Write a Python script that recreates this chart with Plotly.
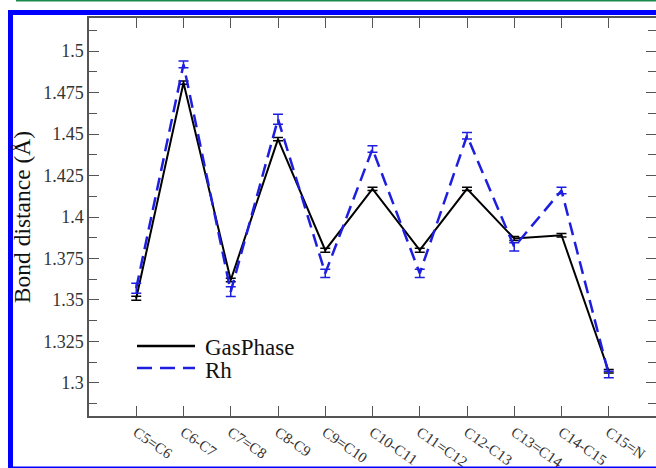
import plotly.graph_objects as go

bonds = ["C5=C6", "C6-C7", "C7=C8", "C8-C9", "C9=C10", "C10-C11",
         "C11=C12", "C12-C13", "C13=C14", "C14-C15", "C15=N"]

gas_values = [1.351, 1.481, 1.362, 1.447, 1.380, 1.417, 1.380, 1.417, 1.387, 1.389, 1.307]
gas_errors = [0.0012, 0.001, 0.001, 0.001, 0.0012, 0.001, 0.0012, 0.001, 0.0012, 0.001, 0.001]

rh_values = [1.357, 1.492, 1.355, 1.459, 1.366, 1.441, 1.366, 1.449, 1.382, 1.416, 1.305]
rh_errors = [0.003, 0.002, 0.003, 0.003, 0.0025, 0.002, 0.0025, 0.002, 0.0025, 0.002, 0.002]

y_tickvals = [1.3, 1.325, 1.35, 1.375, 1.4, 1.425, 1.45, 1.475, 1.5]
y_ticktext = ["1.3", "1.325", "1.35", "1.375", "1.4", "1.425", "1.45", "1.475", "1.5"]

series_names = ["GasPhase", "Rh"]

SERIF = "Liberation Serif, Times New Roman, serif"
BLUE_LINE = "#1e1ee0"
DASH = "13px,7px"

fig = go.Figure()
fig.add_trace(go.Scatter(
    x=bonds, y=gas_values, mode="lines", name=series_names[0],
    line=dict(color="black", width=2),
    error_y=dict(type="data", array=gas_errors, visible=True,
                 color="black", thickness=1.5, width=5),
    showlegend=False,
))
fig.add_trace(go.Scatter(
    x=bonds, y=rh_values, mode="lines", name=series_names[1],
    line=dict(color=BLUE_LINE, width=2.5, dash=DASH),
    error_y=dict(type="data", array=rh_errors, visible=True,
                 color=BLUE_LINE, thickness=1.5, width=5),
    showlegend=False,
))

axis_color = "#555555"
fig.update_xaxes(
    range=[-1, 11], showline=True, linecolor=axis_color, linewidth=1.5,
    mirror="ticks", ticks="inside", ticklen=10, tickwidth=1.2, tickcolor=axis_color,
    tickangle=35, tickfont=dict(family=SERIF, size=15, color="#333333"),
    showgrid=False, zeroline=False, automargin=False,
)
fig.update_yaxes(
    range=[1.28, 1.52], showline=True, linecolor=axis_color, linewidth=1.5,
    mirror="ticks", ticks="inside", ticklen=10, tickwidth=1.2, tickcolor=axis_color,
    tickmode="array", tickvals=y_tickvals, ticktext=y_ticktext,
    tickfont=dict(family=SERIF, size=18, color="#333333"),
    minor=dict(ticks="inside", ticklen=8, tickwidth=1.2, tickcolor=axis_color,
               dtick=0.0125, tick0=1.2875, showgrid=False),
    showgrid=False, zeroline=False, automargin=False,
    title=dict(text="Bond distance (Å)", font=dict(family=SERIF, size=23.5, color="#111111"),
               standoff=6),
)

# Manual legend (line samples + labels)
L, R, T, B = 89, 0, 18, 52
W, H = 656, 468
pw, ph = W - L - R, H - T - B
def px(x):
    return (x - L) / pw
def py(y):
    return (H - B - y) / ph

shapes = [
    dict(type="line", xref="paper", yref="paper", x0=px(137), x1=px(195), y0=py(346), y1=py(346),
         line=dict(color="black", width=2.5)),
    dict(type="line", xref="paper", yref="paper", x0=px(137), x1=px(195), y0=py(368), y1=py(368),
         line=dict(color=BLUE_LINE, width=2.5, dash="15px,8px")),
    # outer blue frame
    dict(type="rect", xref="paper", yref="paper", x0=px(10.5), x1=px(662), y0=py(12.5), y1=py(469),
         line=dict(color="#0000ff", width=5), layer="above"),
    # green rule at very top
    dict(type="line", xref="paper", yref="paper", x0=px(16), x1=px(660), y0=py(0.6), y1=py(0.6),
         line=dict(color="#1a8a4a", width=2)),
]
annotations = [
    dict(xref="paper", yref="paper", x=px(203), y=py(347), text=series_names[0], showarrow=False,
         xanchor="left", yanchor="middle", font=dict(family=SERIF, size=23, color="#111111")),
    dict(xref="paper", yref="paper", x=px(203), y=py(370), text=series_names[1], showarrow=False,
         xanchor="left", yanchor="middle", font=dict(family=SERIF, size=23, color="#111111")),
]

fig.update_layout(
    width=W, height=H,
    margin=dict(l=L, r=R, t=T, b=B),
    paper_bgcolor="white", plot_bgcolor="white",
    shapes=shapes, annotations=annotations,
    showlegend=False,
)

fig.write_html("out.html", config={"displayModeBar": False},
               post_script="document.body.style.margin='0';document.body.style.overflow='hidden';")
